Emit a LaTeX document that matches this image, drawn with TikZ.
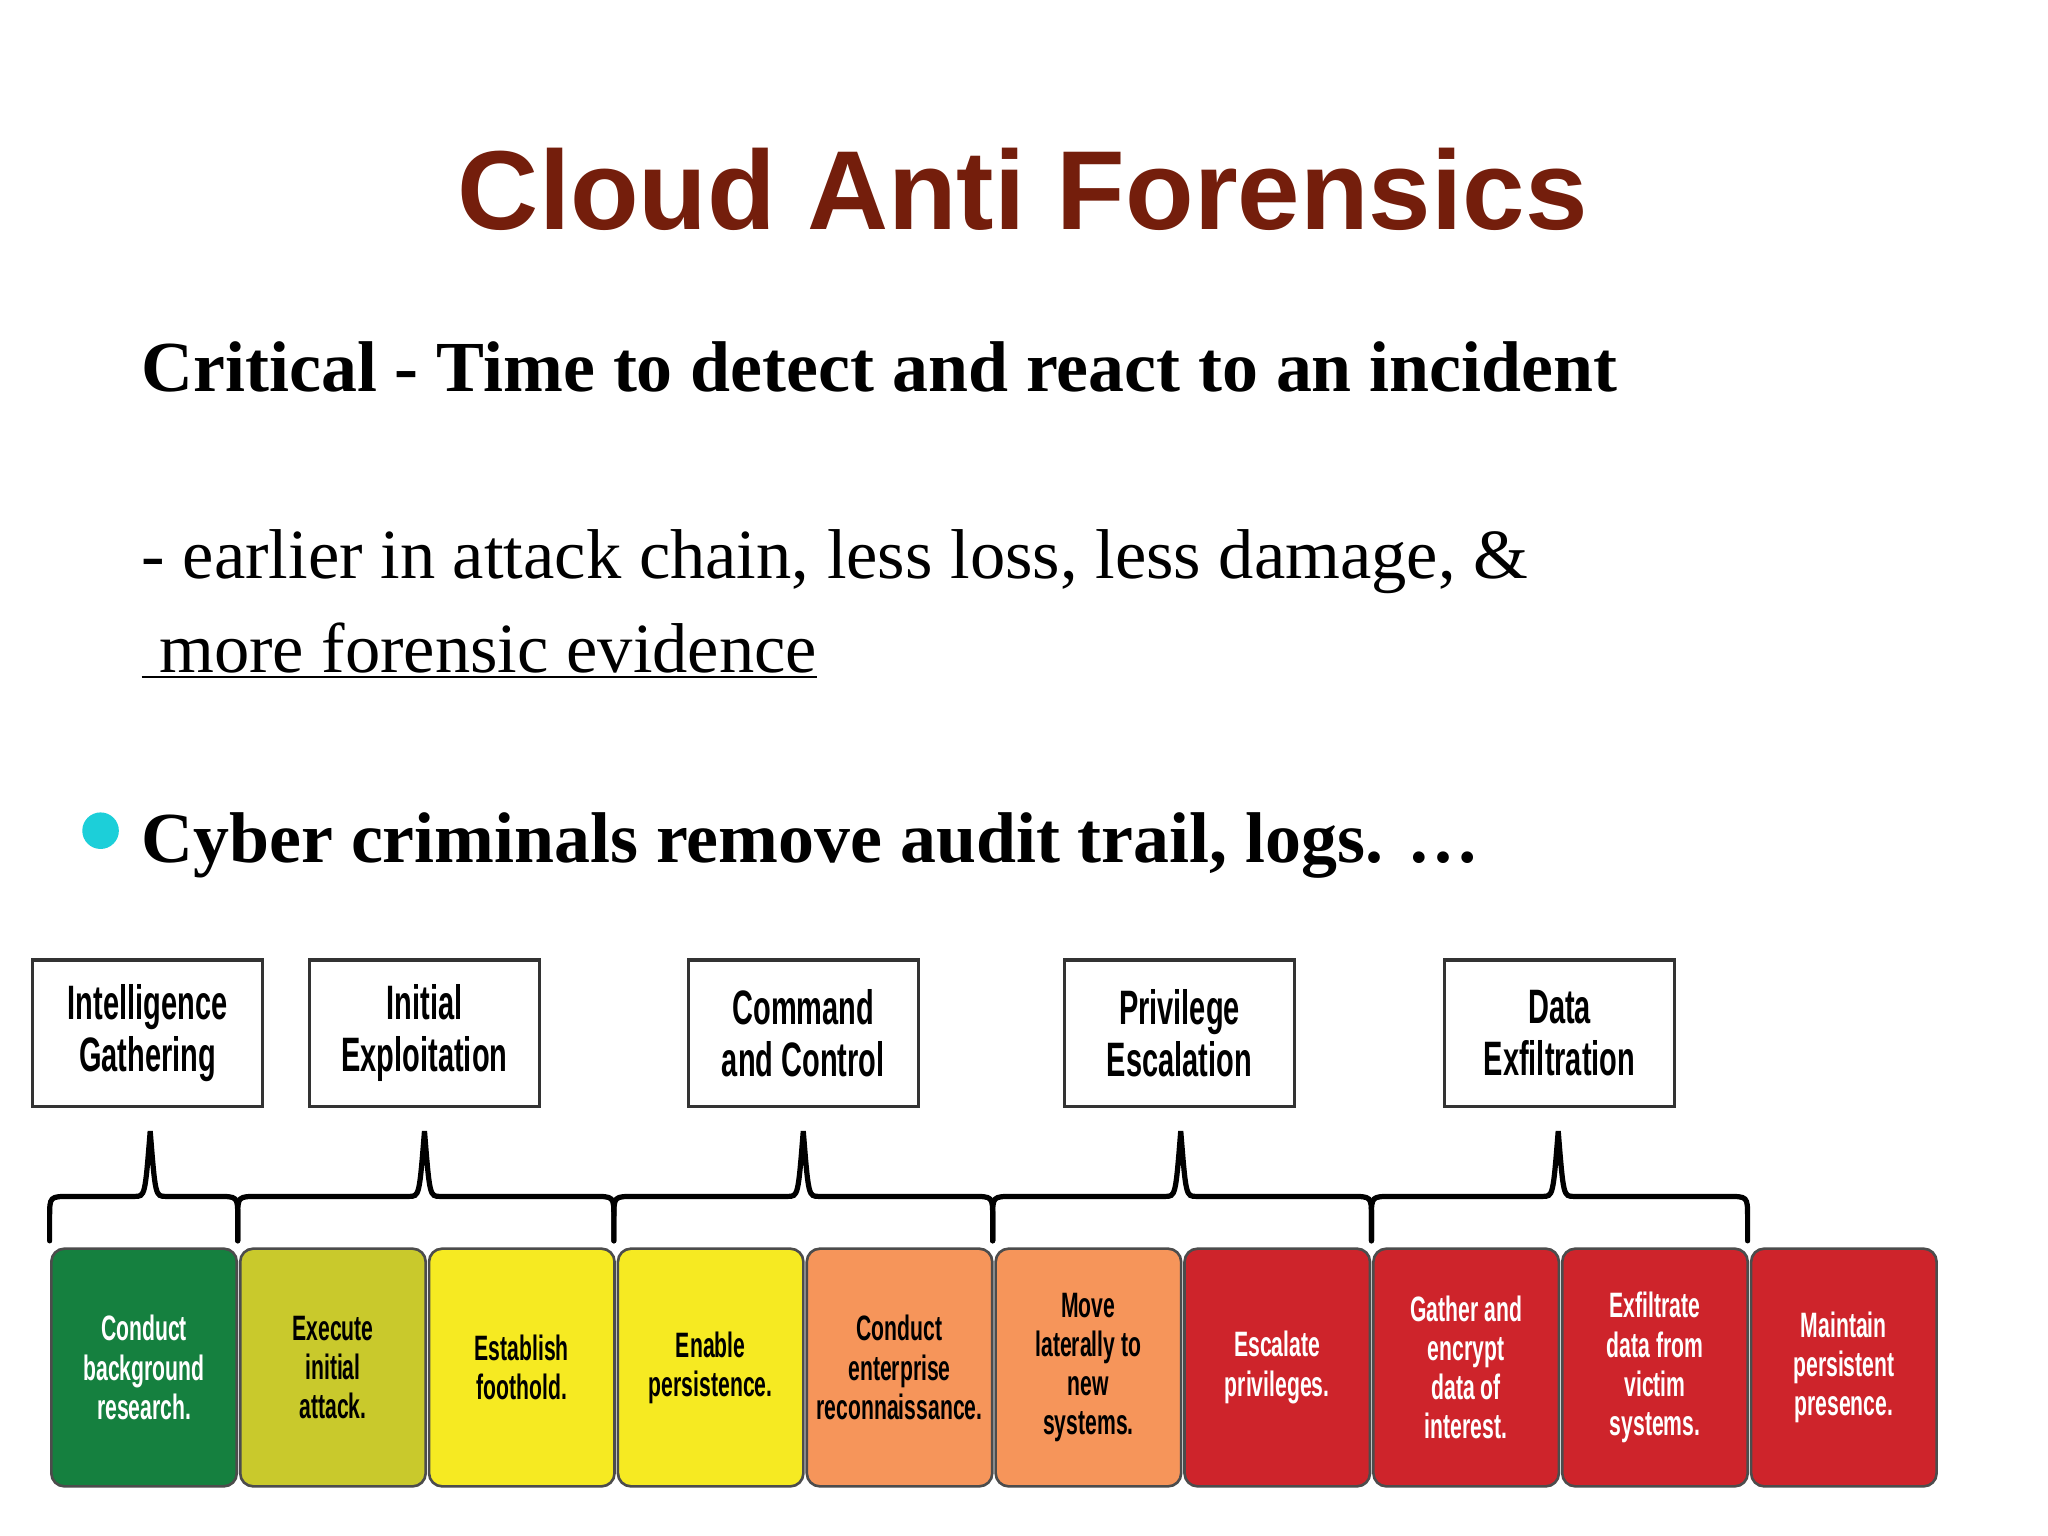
\documentclass[tikz,border=0pt]{standalone}
\usepackage{fontspec}
\setmainfont{Liberation Serif}
\newfontfamily\titlefont{Liberation Sans}
\newfontfamily\cond[FakeStretch=0.6]{Liberation Sans}
\definecolor{titlered}{HTML}{741E0C}
\definecolor{cgreen}{HTML}{15803F}
\definecolor{colive}{HTML}{C9C92C}
\definecolor{cyellow}{HTML}{F6EA22}
\definecolor{corange}{HTML}{F6955A}
\definecolor{cred}{HTML}{CE242B}
\definecolor{cyanb}{HTML}{1CCFD9}
\tikzset{
 topbox/.style={draw=black!80,line width=1.2pt,minimum width=88pt,minimum height=56pt,align=center,font=\cond\bfseries\fontsize{18.5}{20}\selectfont,inner sep=1pt},
 stage/.style={draw=black!70,line width=1pt,rounded corners=5pt,minimum width=71pt,minimum height=91pt,align=center,font=\cond\bfseries\fontsize{13.5}{15}\selectfont,inner sep=1pt},
 brace/.style={line width=2pt,black}
}
\begin{document}
\begin{tikzpicture}[x=0.5pt,y=-0.5pt]
\useasboundingbox (0,0) rectangle (1568,1176);
\fill[white] (0,0) rectangle (1568,1176);
\node (title) at (783,145) {\titlefont\bfseries\fontsize{43}{48}\selectfont\color{titlered}Cloud Anti Forensics};
\node[anchor=base west,inner sep=0] (l1) at (108,300) {\fontsize{27.5}{30}\selectfont\bfseries Critical - Time to detect and react to an incident};
\node[anchor=base west,inner sep=0] (l2) at (108,443) {\fontsize{27}{30}\selectfont - earlier in attack chain, less loss, less damage, \&};
\node[anchor=base west,inner sep=0] (l3) at (108,515) {\fontsize{27}{30}\selectfont\underline{\ more forensic evidence}};
\fill[cyanb] (77,636) circle (14);
\node[anchor=base west,inner sep=0] (l4) at (108,660) {\fontsize{27.5}{30}\selectfont\bfseries Cyber criminals remove audit trail, logs. \dots};
% top boxes
\foreach \n/\x/\t in {a/113/Intelligence\\Gathering, b/325/Initial\\Exploitation, c/615/Command\\and Control, d/903/Privilege\\Escalation, e/1194/Data\\Exfiltration}
  \node[topbox] (\n) at (\x,791) {\t};
% braces
\foreach \xl/\xc/\xr in {38/115/182, 182/325/470, 470/615/760, 760/904/1050, 1050/1193/1338}
  \draw[brace,line cap=round] (\xl,950) -- (\xl,932) .. controls (\xl,916) .. (\xl+16,916) -- (\xc-12,916) .. controls (\xc-4,916) .. (\xc,866) .. controls (\xc+4,916) .. (\xc+12,916) -- (\xr-16,916) .. controls (\xr,916) .. (\xr,932) -- (\xr,950);
% stage boxes
\foreach \i/\c/\tc/\t in {0/cgreen/white/Conduct\\background\\research.,
 1/colive/black/Execute\\initial\\attack.,
 2/cyellow/black/Establish\\foothold.,
 3/cyellow/black/Enable\\persistence.,
 4/corange/black/Conduct\\enterprise\\reconnaissance.,
 5/corange/black/Move\\laterally to\\new\\systems.,
 6/cred/white/Escalate\\privileges.,
 7/cred/white/Gather and\\encrypt\\data of\\interest.,
 8/cred/white/Exfiltrate\\data from\\victim\\systems.,
 9/cred/white/Maintain\\persistent\\presence.}
  \node[stage,fill=\c,text=\tc] (s\i) at ({110.3+\i*144.6},1047) {\t};
\end{tikzpicture}
\end{document}
